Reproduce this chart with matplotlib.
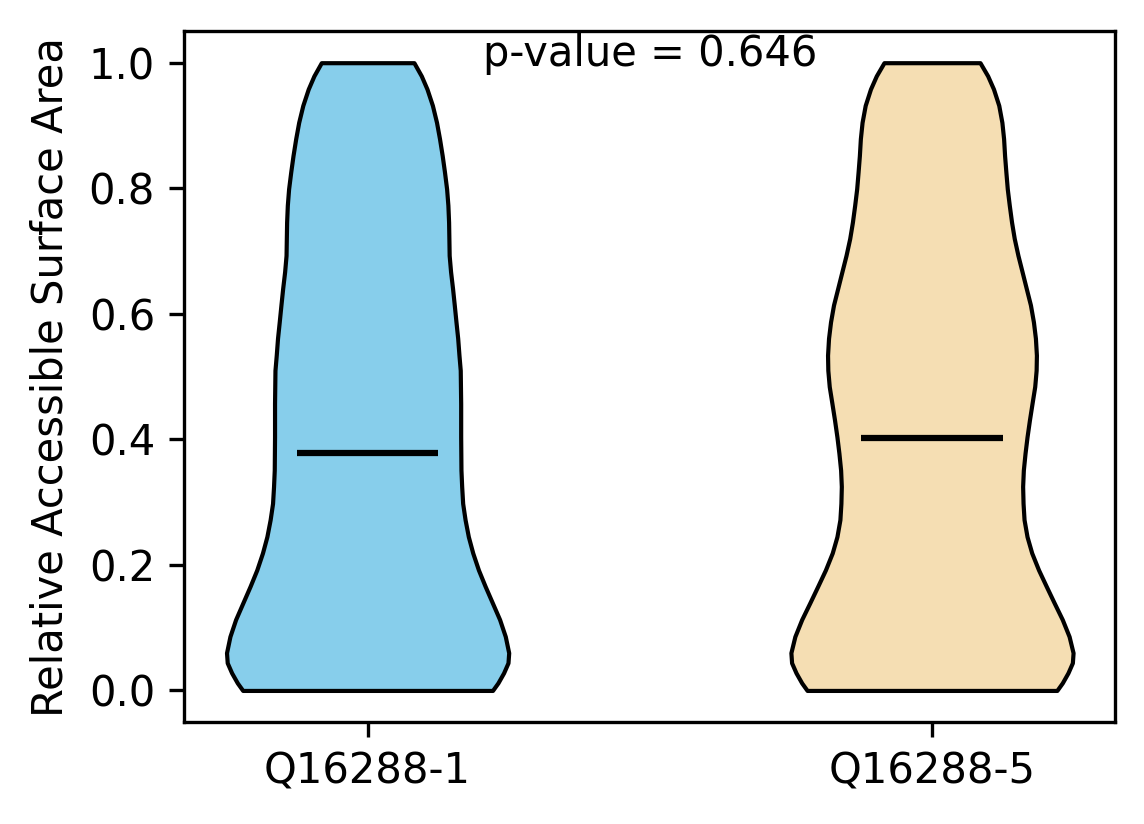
import matplotlib
matplotlib.use("Agg")
import matplotlib.pyplot as plt
import numpy as np

# protein isoforms
labels = ["Q16288-1", "Q16288-5"]
colors = ["skyblue", "wheat"]
p_value = 0.646

# density profiles (rsa value, relative width)
rsa_1 = [0.0, 0.012, 0.028, 0.044, 0.060, 0.086, 0.113, 0.139, 0.166, 0.192,
         0.219, 0.245, 0.272, 0.298, 0.325, 0.351, 0.404, 0.457, 0.510, 0.534,
         0.561, 0.587, 0.614, 0.640, 0.667, 0.693, 0.720, 0.746, 0.773, 0.799,
         0.826, 0.852, 0.879, 0.905, 0.932, 0.958, 0.979, 1.0]
dens_1 = [0.879, 0.917, 0.957, 0.988, 0.993, 0.969, 0.929, 0.879, 0.827, 0.780,
          0.740, 0.709, 0.686, 0.669, 0.662, 0.657, 0.655, 0.655, 0.652, 0.643,
          0.634, 0.622, 0.610, 0.598, 0.584, 0.574, 0.572, 0.570, 0.565, 0.556,
          0.541, 0.525, 0.506, 0.485, 0.456, 0.418, 0.378, 0.326]
mean_1 = 0.378

rsa_2 = [0.0, 0.012, 0.028, 0.044, 0.060, 0.086, 0.113, 0.139, 0.166, 0.192,
         0.219, 0.245, 0.272, 0.298, 0.325, 0.351, 0.378, 0.404, 0.431, 0.457,
         0.484, 0.510, 0.534, 0.561, 0.587, 0.614, 0.640, 0.667, 0.693, 0.720,
         0.746, 0.773, 0.799, 0.826, 0.852, 0.879, 0.905, 0.932, 0.958, 0.979,
         1.0]
dens_2 = [0.879, 0.917, 0.957, 0.988, 0.993, 0.965, 0.917, 0.861, 0.804, 0.750,
          0.702, 0.669, 0.648, 0.641, 0.638, 0.643, 0.655, 0.669, 0.686, 0.704,
          0.723, 0.733, 0.735, 0.728, 0.714, 0.693, 0.664, 0.634, 0.605, 0.579,
          0.560, 0.544, 0.530, 0.520, 0.511, 0.504, 0.492, 0.470, 0.433, 0.392,
          0.338]
mean_2 = 0.402

def stats(coords, vals, mean):
    return {"coords": np.array(coords), "vals": np.array(vals), "mean": mean,
            "median": mean, "min": min(coords), "max": max(coords)}

vpstats = [stats(rsa_1, dens_1, mean_1), stats(rsa_2, dens_2, mean_2)]

fig = plt.figure(figsize=(1144 / 300, 824 / 300), dpi=300)
ax = fig.add_axes([0.161, 0.124, 0.814, 0.838])

parts = ax.violin(vpstats, positions=[1, 2], showmeans=True, showextrema=False)
for body, c in zip(parts["bodies"], colors):
    body.set_facecolor(c)
    body.set_edgecolor("black")
    body.set_linewidth(1)
    body.set_alpha(1)
parts["cmeans"].set_color("black")
parts["cmeans"].set_linewidth(1.5)

ax.set_xticks([1, 2])
ax.set_xticklabels(labels)
ax.set_ylabel("Relative Accessible Surface Area")
ax.text(0.5, 0.95, f"p-value = {p_value}", ha="center", transform=ax.transAxes)

fig.savefig("out.png", dpi=300)
